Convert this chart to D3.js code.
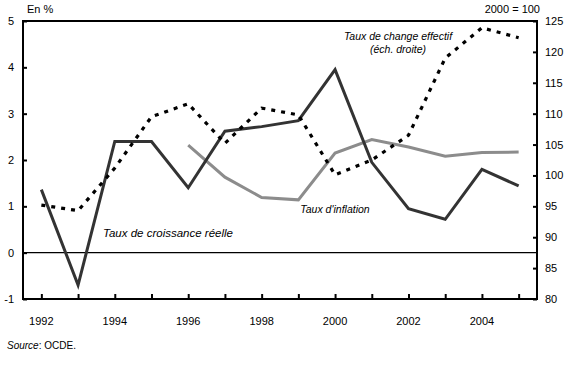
<!DOCTYPE html>
<html><head><meta charset="utf-8">
<script src="https://cdn.jsdelivr.net/npm/d3@7"></script>
<style>body{margin:0;background:#fff}svg{display:block}text{font-family:"Liberation Sans",Arial,sans-serif;fill:#000}</style>
</head><body><svg id="c" width="584" height="366"></svg>
<script>
const years = [1992,1993,1994,1995,1996,1997,1998,1999,2000,2001,2002,2003,2004,2005];
const growth = [1.36,-0.7,2.4,2.4,1.4,2.62,2.72,2.85,3.95,1.95,0.95,0.72,1.8,1.44];
const inflationYears = [1996,1997,1998,1999,2000,2001,2002,2003,2004,2005];
const inflation = [2.32,1.63,1.19,1.14,2.15,2.44,2.28,2.08,2.16,2.17];
const exchange = [95.2,94.3,101.2,109.5,111.6,105.2,110.9,109.8,100.1,102.5,106.5,119.0,123.9,122.3];
const leftTicks = [-1,0,1,2,3,4,5];
const rightTicks = [80,85,90,95,100,105,110,115,120,125];
const xLabelYears = [1992,1994,1996,1998,2000,2002,2004];

const svg = d3.select("#c");
const L=23, R=537, T=21, B=299;
const x = d3.scaleLinear().domain([1991.5,2005.5]).range([L,R]);
const yL = d3.scaleLinear().domain([-1,5]).range([B,T]);
const yR = d3.scaleLinear().domain([80,125]).range([B,T]);

// zero line
svg.append("line").attr("x1",L).attr("x2",R).attr("y1",yL(0)).attr("y2",yL(0)).attr("stroke","#000").attr("stroke-width",1.2);

// series
const lineG = d3.line().x((d,i)=>x(years[i])).y(d=>yL(d));
const lineI = d3.line().x((d,i)=>x(inflationYears[i])).y(d=>yL(d));
const lineE = d3.line().x((d,i)=>x(years[i])).y(d=>yR(d));
svg.append("path").attr("d",lineI(inflation)).attr("fill","none").attr("stroke","#8c8c8c").attr("stroke-width",3);
svg.append("path").attr("d",lineG(growth)).attr("fill","none").attr("stroke","#333").attr("stroke-width",3);
svg.append("path").attr("d",lineE(exchange)).attr("fill","none").attr("stroke","#000").attr("stroke-width",3.2).attr("stroke-dasharray","4,6");

// frame
svg.append("rect").attr("x",L).attr("y",T).attr("width",R-L).attr("height",B-T).attr("fill","none").attr("stroke","#000").attr("stroke-width",2);

// axes
const ax = svg.append("g").attr("transform",`translate(0,${B})`)
  .call(d3.axisTop(x).tickValues(years).tickSize(5).tickFormat(""));
ax.select(".domain").remove();
ax.selectAll("line").attr("stroke-width",2);
svg.append("g").selectAll("text").data(xLabelYears).join("text")
  .attr("x",d=>x(d)).attr("y",B+26).attr("text-anchor","middle").attr("font-size",11).text(d=>d);

const al = svg.append("g").attr("transform",`translate(${L},0)`)
  .call(d3.axisRight(yL).tickValues(leftTicks).tickSize(4).tickFormat(""));
al.select(".domain").remove();
al.selectAll("line").attr("stroke-width",2);
svg.append("g").selectAll("text").data(leftTicks).join("text")
  .attr("x",14).attr("y",d=>yL(d)+4).attr("text-anchor","end").attr("font-size",11).text(d=>d);

const ar = svg.append("g").attr("transform",`translate(${R},0)`)
  .call(d3.axisLeft(yR).tickValues(rightTicks).tickSize(4).tickFormat(""));
ar.select(".domain").remove();
ar.selectAll("line").attr("stroke-width",2);
svg.append("g").selectAll("text").data(rightTicks).join("text")
  .attr("x",545).attr("y",d=>yR(d)+4).attr("text-anchor","start").attr("font-size",11).text(d=>d);

// titles
svg.append("text").attr("x",27).attr("y",13).attr("font-size",11).text("En %");
svg.append("text").attr("x",540).attr("y",13).attr("text-anchor","end").attr("font-size",11).text("2000 = 100");

// labels
const it = (t,xx,yy,fs)=>svg.append("text").attr("x",xx).attr("y",yy).attr("font-size",fs).attr("font-style","italic").attr("text-anchor","middle").text(t);
it("Taux de change effectif",398,40,10.5);
it("(éch. droite)",398,53,10.5);
it("Taux d'inflation",335,213,10.5);
it("Taux de croissance réelle",168,237,11.5);

svg.append("text").attr("x",7).attr("y",349).attr("font-size",10)
  .html('<tspan font-style="italic">Source</tspan>: OCDE.');
</script></body></html>
